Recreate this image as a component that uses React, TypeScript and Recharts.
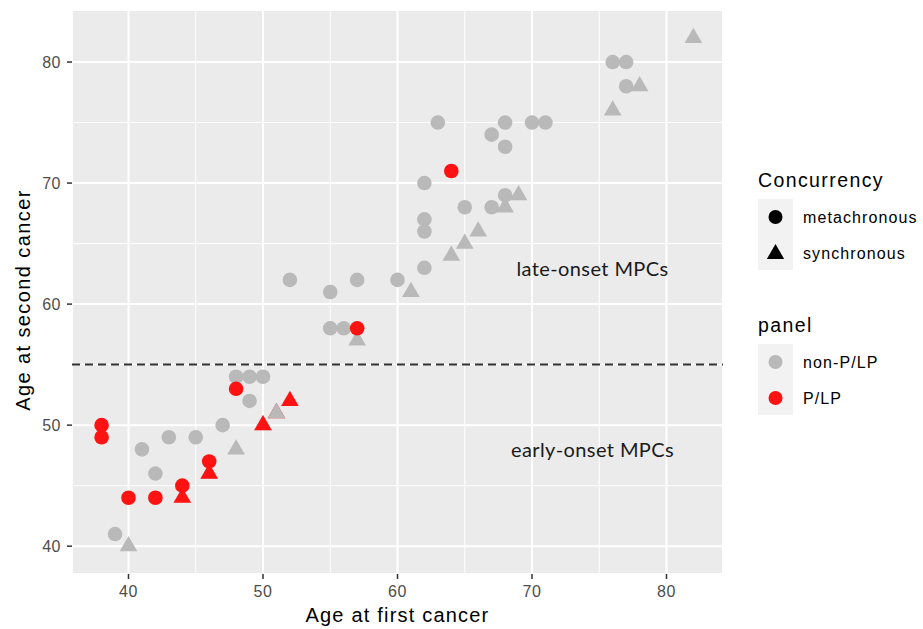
import React from 'react';
import {
  ScatterChart, Scatter, XAxis, YAxis, CartesianGrid, ReferenceLine, ReferenceDot, Legend
} from 'recharts';

type Pt = { x: number; y: number };

// age at first cancer / age at second cancer
const greyCircles: Pt[] = [
  { x: 39, y: 41 }, { x: 41, y: 48 }, { x: 42, y: 46 }, { x: 43, y: 49 }, { x: 45, y: 49 },
  { x: 47, y: 50 }, { x: 48, y: 54 }, { x: 49, y: 54 }, { x: 50, y: 54 }, { x: 49, y: 52 },
  { x: 52, y: 62 }, { x: 55, y: 61 }, { x: 55, y: 58 }, { x: 56, y: 58 }, { x: 57, y: 62 },
  { x: 60, y: 62 }, { x: 62, y: 63 }, { x: 62, y: 66 }, { x: 62, y: 67 }, { x: 62, y: 70 },
  { x: 63, y: 75 }, { x: 65, y: 68 }, { x: 67, y: 68 }, { x: 67, y: 74 }, { x: 68, y: 73 },
  { x: 68, y: 75 }, { x: 68, y: 69 }, { x: 70, y: 75 }, { x: 71, y: 75 }, { x: 76, y: 80 },
  { x: 77, y: 80 }, { x: 77, y: 78 },
];
const greyTriangles: Pt[] = [
  { x: 40, y: 40 }, { x: 46, y: 46 }, { x: 48, y: 48 }, { x: 50, y: 50 }, { x: 51, y: 51 },
  { x: 57, y: 57 }, { x: 61, y: 61 }, { x: 64, y: 64 }, { x: 65, y: 65 }, { x: 66, y: 66 },
  { x: 68, y: 68 }, { x: 69, y: 69 }, { x: 76, y: 76 }, { x: 78, y: 78 }, { x: 82, y: 82 },
];
const redCircles: Pt[] = [
  { x: 38, y: 50 }, { x: 38, y: 49 }, { x: 40, y: 44 }, { x: 42, y: 44 }, { x: 44, y: 45 },
  { x: 46, y: 47 }, { x: 48, y: 53 }, { x: 57, y: 58 }, { x: 64, y: 71 },
];
// red triangle hidden under the grey one
const redTrianglesUnder: Pt[] = [{ x: 51, y: 51 }];
const redTriangles: Pt[] = [
  { x: 44, y: 44 }, { x: 46, y: 46 }, { x: 50, y: 50 }, { x: 52, y: 52 },
];

const xTicks = [40, 50, 60, 70, 80];
const yTicks = [40, 50, 60, 70, 80];
const xMinor = [45, 55, 65, 75];
const yMinor = [45, 55, 65, 75];
const cutoffAge = 55;
const notes = [
  { x: 74.5, y: 63, text: 'late-onset MPCs' },
  { x: 74.5, y: 48, text: 'early-onset MPCs' },
];

const GREY = '#b9b9b9';
const RED = '#ff1212';
const FONT = '"Liberation Sans", Arial, Helvetica, sans-serif';

const circleShape = (fill: string) => (p: any) => (
  <circle cx={p.cx} cy={p.cy} r={7.3} fill={fill} />
);

const triPath = (cx: number, cy: number, r: number) => {
  const hw = (r * Math.sqrt(3)) / 2;
  return `M${cx},${cy - r}L${cx + hw},${cy + r / 2}L${cx - hw},${cy + r / 2}Z`;
};

const triangleShape = (fill: string) => (p: any) => (
  <path d={triPath(p.cx, p.cy, 10.2)} fill={fill} />
);

const noteShape = (text: string) => (p: any) => (
  <text x={p.cx} y={p.cy} textAnchor="middle" dominantBaseline="central"
    fontFamily="Lato, 'Open Sans', sans-serif" fontSize={20} letterSpacing={0.4} fill="#1a1a1a">
    {text}
  </text>
);

const LegendBox = () => {
  const ox = 740;
  const oy = 150;
  const lab = { fontFamily: FONT, fontSize: 16, letterSpacing: 1.1, fill: '#000' };
  const ttl = { fontFamily: FONT, fontSize: 19.5, letterSpacing: 1.4, fill: '#000' };
  return (
    <svg width={183} height={280} style={{ overflow: 'visible' }}>
      <g transform={`translate(${-ox},${-oy})`}>
        <text x={758} y={187} {...ttl}>Concurrency</text>
        <rect x={758} y={199} width={35} height={71} fill="#f2f2f2" />
        <circle cx={775.5} cy={217} r={7} fill="#000" />
        <path d={triPath(775.5, 254, 10)} fill="#000" />
        <text x={803} y={217} dominantBaseline="central" {...lab}>metachronous</text>
        <text x={803} y={253} dominantBaseline="central" {...lab}>synchronous</text>

        <text x={758} y={332} {...ttl}>panel</text>
        <rect x={758} y={344} width={35} height={71} fill="#f2f2f2" />
        <circle cx={775.5} cy={362} r={7} fill={GREY} />
        <circle cx={775.5} cy={398} r={7} fill={RED} />
        <text x={803} y={362} dominantBaseline="central" {...lab}>non-P/LP</text>
        <text x={803} y={398} dominantBaseline="central" {...lab}>P/LP</text>
      </g>
    </svg>
  );
};

export default function App() {
  const tick = { fill: '#4d4d4d', fontSize: 16, fontFamily: FONT, letterSpacing: 0.5 };
  return (
    <div style={{ background: '#fff', width: 923, height: 629 }}>
      <style>{'body{margin:0}'}</style>
      <ScatterChart width={923} height={629} margin={{ top: 10, right: 200, bottom: 0, left: 0 }}
        style={{ fontFamily: FONT }}>
        <CartesianGrid fill="#ebebeb" fillOpacity={1} stroke="#fff" strokeWidth={2} />
        <CartesianGrid fill="none" stroke="#fff" strokeWidth={1}
          verticalValues={xMinor} horizontalValues={yMinor} />
        <XAxis type="number" dataKey="x" domain={[35.8, 84.2]} allowDataOverflow ticks={xTicks}
          axisLine={false} tickLine={{ stroke: '#333', strokeWidth: 1.5 }} tickSize={5} tickMargin={7}
          tick={tick} height={55}
          label={{
            content: (props: any) => {
              const vb = props.viewBox;
              return (
                <text x={vb.x + vb.width / 2} y={622} textAnchor="middle" fontFamily={FONT}
                  fontSize={20} letterSpacing={1.2} fill="#000">Age at first cancer</text>
              );
            },
          }} />
        <YAxis type="number" dataKey="y" domain={[37.7, 84.3]} allowDataOverflow ticks={yTicks}
          axisLine={false} tickLine={{ stroke: '#333', strokeWidth: 1.5 }} tickSize={5} tickMargin={6}
          tick={tick} width={72}
          label={{
            content: (props: any) => {
              const vb = props.viewBox;
              const cy = vb.y + vb.height / 2 + 8;
              return (
                <text x={23} y={cy} transform={`rotate(-90, 23, ${cy})`} textAnchor="middle"
                  dominantBaseline="central" fontFamily={FONT} fontSize={20} letterSpacing={1.4}
                  fill="#000">Age at second cancer</text>
              );
            },
          }} />
        <ReferenceLine y={cutoffAge} stroke="#333" strokeWidth={2} strokeDasharray="8 5" />
        {notes.map((n) => (
          <ReferenceDot key={n.text} x={n.x} y={n.y} r={0} shape={noteShape(n.text)} />
        ))}
        <Scatter name="P/LP synchronous under" data={redTrianglesUnder} shape={triangleShape(RED)}
          isAnimationActive={false} legendType="none" />
        <Scatter name="non-P/LP metachronous" data={greyCircles} shape={circleShape(GREY)}
          isAnimationActive={false} />
        <Scatter name="non-P/LP synchronous" data={greyTriangles} shape={triangleShape(GREY)}
          isAnimationActive={false} />
        <Scatter name="P/LP metachronous" data={redCircles} shape={circleShape(RED)}
          isAnimationActive={false} />
        <Scatter name="P/LP synchronous" data={redTriangles} shape={triangleShape(RED)}
          isAnimationActive={false} />
        <Legend layout="horizontal" verticalAlign="middle" align="center" content={() => <LegendBox />}
          wrapperStyle={{ left: 740, top: 150, width: 183, height: 280 }} />
      </ScatterChart>
    </div>
  );
}
